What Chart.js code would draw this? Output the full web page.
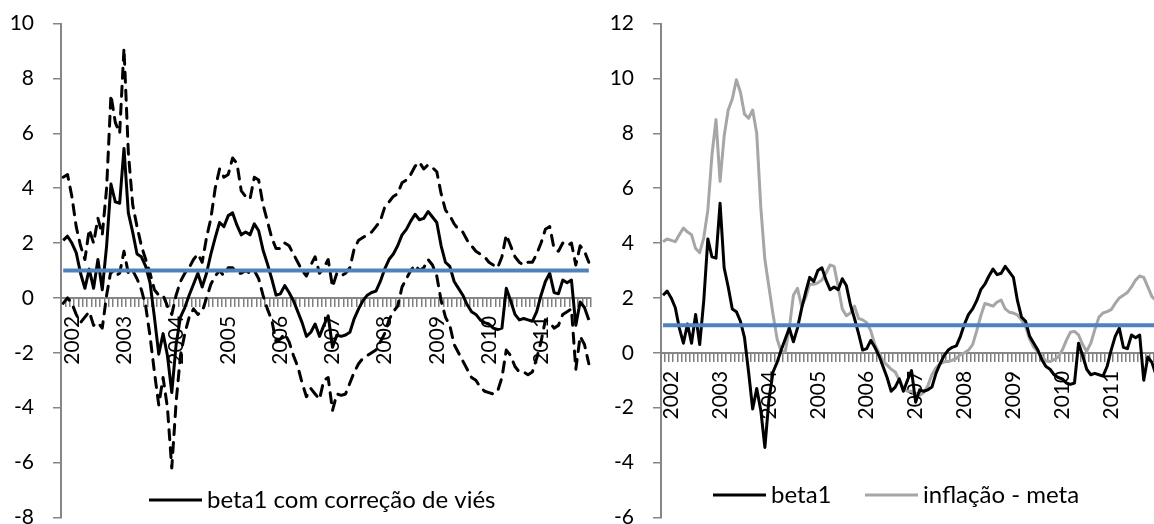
<!DOCTYPE html>
<html>
<head>
<meta charset="utf-8">
<script src="https://cdn.jsdelivr.net/npm/chart.js@4.4.1/dist/chart.umd.min.js"></script>
<style>
html, body { margin: 0; padding: 0; background: #fff; overflow: hidden; width: 1154px; height: 524px; }
#left { position: absolute; left: 0; top: -8px; }
#right { position: absolute; left: 600px; top: -8px; }
</style>
</head>
<body>
<canvas id="left" width="640" height="557"></canvas>
<canvas id="right" width="600" height="557"></canvas>
<script>
// monthly categories, Nov 2001 - Dec 2011
const categories = [];
for (let y = 2001; y <= 2011; y++) {
    for (let m = 1; m <= 12; m++) {
        if (y === 2001 && m < 11) continue;
        categories.push(y + "-" + String(m).padStart(2, "0"));
    }
}

const beta1 = [
    2.1, 2.25, 2.0, 1.65, 0.9, 0.35, 1.05, 0.35, 1.4, 0.3, 1.9, 4.15,
    3.5, 3.45, 5.45, 3.1, 2.4, 1.6, 1.5, 1.15, 0.55, -0.7, -2.05, -1.3,
    -2.1, -3.45, -1.7, -0.7, -0.35, 0.1, 0.5, 0.9, 0.4, 0.9, 1.6, 2.2,
    2.75, 2.6, 3.0, 3.1, 2.65, 2.3, 2.4, 2.3, 2.7, 2.45, 1.75, 1.25,
    0.7, 0.1, 0.15, 0.45, 0.2, -0.1, -0.5, -0.9, -1.4, -1.25, -0.95, -1.4,
    -1.0, -0.65, -1.8, -1.35, -1.4, -1.35, -1.25, -0.75, -0.4, -0.1, 0.1, 0.2,
    0.25, 0.6, 1.05, 1.4, 1.6, 1.9, 2.3, 2.5, 2.8, 3.05, 2.85, 2.9,
    3.15, 2.95, 2.75, 1.9, 1.3, 1.15, 0.6, 0.35, 0.1, -0.25, -0.5, -0.6,
    -0.8, -0.9, -0.95, -1.1, -1.15, -1.1, 0.35, -0.1, -0.6, -0.8, -0.75, -0.8,
    -0.85, -0.5, 0.1, 0.6, 0.9, 0.2, 0.15, 0.65, 0.55, 0.65, -1.0, -0.15,
    -0.35, -0.8
];

const upperBand = [
    4.4, 4.5, 3.7, 2.6, 1.9, 1.4, 2.5, 2.0, 2.9, 2.3, 4.0, 7.4,
    6.4, 6.0, 9.1, 5.3, 3.4, 2.6, 1.9, 1.4, 0.9, 0.3, 0.1, 0.1,
    -0.3, -0.6, 0.1, 0.6, 0.9, 1.1, 1.4, 1.6, 1.3, 2.2, 2.9, 4.0,
    4.7, 4.4, 4.5, 5.1, 4.9, 3.9, 3.7, 3.6, 4.4, 4.3, 3.4, 2.8,
    2.2, 1.8, 1.8, 2.0, 1.9, 1.6, 1.3, 1.0, 0.8, 1.2, 1.5, 0.9,
    1.1, 1.4, 0.4, 0.9, 0.8, 0.9, 1.1, 1.8, 2.1, 2.2, 2.3, 2.4,
    2.6, 2.8, 3.3, 3.5, 3.7, 3.8, 4.2, 4.3, 4.5, 4.8, 4.95, 4.7,
    4.85, 4.75, 4.6, 3.8, 3.2, 3.0, 2.7, 2.5, 2.4, 2.1, 1.9, 1.7,
    1.6, 1.5, 1.3, 1.2, 1.1, 1.5, 2.3, 1.9, 1.5, 1.3, 1.2, 1.3,
    1.3, 1.6, 2.0, 2.5, 2.6, 1.8, 1.7, 2.0, 1.9, 2.0, 1.2, 1.9,
    1.7, 1.3
];

const lowerBand = [
    -0.2, 0.0, -0.2, -0.6, -0.9, -0.7, -0.5, -1.0, -0.9, -1.1, 0.1, 1.0,
    0.8, 0.9, 1.7, 0.9, 1.0, 0.7, 0.3, -0.3, -1.4, -2.7, -3.9, -2.9,
    -4.0, -6.2, -3.8, -2.1, -1.3, -0.7, -0.4, -0.6, -0.5, 0.0, 0.5, 0.8,
    1.0, 0.8, 1.1, 1.1, 0.9, 0.9, 1.0, 0.9, 1.0, 0.7, 0.1, -0.4,
    -0.8, -1.6, -1.5, -1.3, -1.6, -2.1, -2.5, -3.1, -3.6, -3.3, -3.5, -3.7,
    -3.0, -2.9, -4.1, -3.5, -3.55, -3.5, -3.1, -2.7, -2.4, -2.2, -2.1, -2.0,
    -1.9, -1.6, -1.3, -0.8, -0.5, -0.3, 0.4, 0.7, 1.0, 1.2, 1.0, 1.1,
    1.4, 1.2, 0.8, -0.1, -0.7, -1.0, -1.7, -2.0, -2.3, -2.6, -2.9, -3.0,
    -3.25, -3.4, -3.45, -3.5, -3.4, -2.9, -1.9, -2.1, -2.5, -2.7, -2.7, -2.8,
    -2.7, -2.2, -1.6, -0.8, -0.9, -1.1, -1.0, -0.6, -0.5, -0.4, -2.6, -1.4,
    -1.7, -2.4
];

const inflacaoMeta = [
    4.05, 4.15, 4.1, 4.05, 4.3, 4.55, 4.4, 4.3, 3.8, 3.65, 4.2, 5.2,
    7.2, 8.5, 6.25, 7.9, 8.85, 9.25, 9.95, 9.5, 8.7, 8.55, 8.85, 8.0,
    5.3, 3.4, 2.4, 1.4, 0.5, 0.05, 0.05, 0.9, 2.1, 2.35, 1.7, 2.0,
    2.5, 2.5, 2.55, 2.65, 2.9, 3.2, 3.15, 2.4, 1.6, 1.35, 1.45, 1.7,
    1.25, 1.2, 1.1, 0.8, 0.3, 0.0, -0.3, -0.45, -0.6, -0.7, -1.0, -1.3,
    -1.4, -1.4, -1.5, -1.55, -1.45, -1.2, -0.8, -0.55, -0.4, -0.33, -0.32, -0.27,
    -0.2, -0.07, 0.0, 0.1, 0.3, 0.8, 1.35, 1.8, 1.75, 1.7, 1.85, 1.92,
    1.6, 1.48, 1.45, 1.38, 1.2, 0.95, 0.5, 0.2, 0.05, -0.12, -0.3, -0.32,
    -0.25, -0.15, 0.1, 0.45, 0.75, 0.78, 0.65, 0.3, 0.05, 0.35, 0.85, 1.3,
    1.45, 1.5, 1.57, 1.8, 2.0, 2.1, 2.2, 2.4, 2.65, 2.8, 2.75, 2.4,
    2.05, 1.9
];

const targetLevel = 1;

Chart.defaults.font.family = "Lato";
Chart.defaults.font.size = 21;
Chart.defaults.color = "#000";

// legend drawn inside the plot, like the Excel original
const plotLegend = {
    id: "plotLegend",
    afterDraw(chart, args, opts) {
        const ctx = chart.ctx;
        ctx.save();
        ctx.font = "24px Lato";
        ctx.textBaseline = "middle";
        opts.items.forEach(it => {
            const ds = chart.data.datasets[it.dataset];
            ctx.strokeStyle = ds.borderColor;
            ctx.lineWidth = 3;
            ctx.beginPath();
            ctx.moveTo(it.x, opts.y);
            ctx.lineTo(it.x + 53, opts.y);
            ctx.stroke();
            ctx.fillStyle = "#000";
            ctx.fillText(ds.label, it.x + 58, opts.y);
        });
        ctx.restore();
    }
};

function axes(yMin, yMax) {
    return {
        x: {
            type: "category",
            position: { y: 0 },
            offset: true,
            grid: { offset: true, drawOnChartArea: false, drawTicks: true, tickLength: 8, color: "#7f7f7f", lineWidth: 1.5 },
            border: { color: "#868686", width: 2 },
            ticks: {
                autoSkip: false, maxRotation: 90, minRotation: 90, padding: 10,
                callback: (v, i) => categories[i].endsWith("-01") ? categories[i].slice(0, 4) : ""
            }
        },
        y: {
            min: yMin,
            max: yMax,
            afterFit: s => { s.width = 61; },
            grid: { drawOnChartArea: false, drawTicks: true, tickLength: 8, color: "#868686", lineWidth: 1.5 },
            border: { color: "#868686", width: 2 },
            ticks: { stepSize: 2, padding: 19 }
        }
    };
}

const common = {
    responsive: false,
    animation: false,
    devicePixelRatio: 1,
    elements: { point: { radius: 0 }, line: { tension: 0, borderJoinStyle: "round" } },
    events: []
};

new Chart(document.getElementById("left"), {
    type: "line",
    data: {
        labels: categories,
        datasets: [
            { label: "meta", data: categories.map(() => targetLevel), borderColor: "#4F81BD", borderWidth: 4, order: 0 },
            { label: "beta1 com correção de viés", data: beta1, borderColor: "#000", borderWidth: 3, order: 1 },
            { label: "limite superior", data: upperBand, borderColor: "#000", borderWidth: 3, borderDash: [10, 8], borderCapStyle: "round", order: 2 },
            { label: "limite inferior", data: lowerBand, borderColor: "#000", borderWidth: 3, borderDash: [10, 8], borderCapStyle: "round", order: 2 }
        ]
    },
    options: {
        ...common,
        layout: { padding: { top: 0, right: 49, bottom: 0, left: 0 } },
        scales: axes(-8, 10),
        plugins: {
            legend: { display: false },
            tooltip: { enabled: false },
            plotLegend: { y: 508, items: [{ dataset: 1, x: 149 }] }
        }
    },
    plugins: [plotLegend]
});

new Chart(document.getElementById("right"), {
    type: "line",
    data: {
        labels: categories,
        datasets: [
            { label: "meta", data: categories.map(() => targetLevel), borderColor: "#4F81BD", borderWidth: 4, order: 0 },
            { label: "beta1", data: beta1, borderColor: "#000", borderWidth: 3, order: 1 },
            { label: "inflação - meta", data: inflacaoMeta, borderColor: "#A6A6A6", borderWidth: 3, order: 2 }
        ]
    },
    options: {
        ...common,
        layout: { padding: { top: 0, right: 42, bottom: 0, left: 0 } },
        scales: axes(-6, 12),
        plugins: {
            legend: { display: false },
            tooltip: { enabled: false },
            plotLegend: { y: 503, items: [{ dataset: 1, x: 113 }, { dataset: 2, x: 265 }] }
        }
    },
    plugins: [plotLegend]
});
</script>
</body>
</html>
